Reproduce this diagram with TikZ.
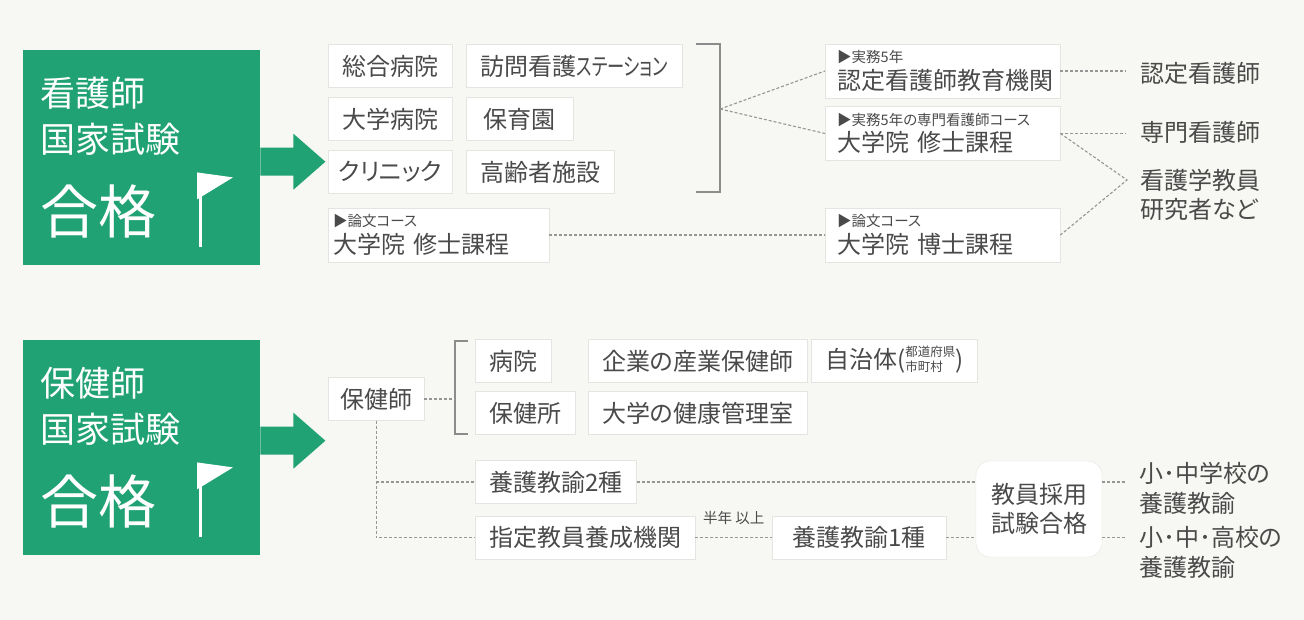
\documentclass[tikz,border=0pt]{standalone}
\usepackage{fontspec}
\usepackage{graphicx}
\setmainfont{Noto Sans CJK JP}[RawFeature=+palt]
\definecolor{paper}{RGB}{247,248,243}
\definecolor{passgreen}{RGB}{32,162,116}
\definecolor{ink}{RGB}{74,74,74}
\definecolor{boxline}{RGB}{228,228,224}
\definecolor{dashgray}{RGB}{150,150,150}
\definecolor{bracegray}{RGB}{140,140,140}
\newcommand\mainfs{\fontsize{24}{28}\selectfont}
\newcommand\subfs{\fontsize{14.5}{16}\selectfont}
\newcommand\passfs{\fontsize{35}{46}\selectfont\lineskiplimit=-100pt\relax}
\newcommand\bigfs{\fontsize{58}{46}\selectfont}
\tikzset{
  place/.style={draw=boxline, fill=white, text=ink, font=\mainfs, inner xsep=14pt, inner ysep=0pt, minimum height=43pt, anchor=west},
  course/.style={place, align=left, text width=211pt, inner xsep=12pt, minimum height=54pt, font=\fontsize{24}{26.6}\selectfont},
  goal/.style={text=ink, font=\fontsize{24}{29.5}\selectfont, inner xsep=14pt, inner ysep=0pt, anchor=west, align=left},
  pass/.style={fill=passgreen, text=white, anchor=north west, minimum width=237pt, minimum height=215pt, inner xsep=17pt, text width=203pt, align=left, font=\passfs},
  route/.style={draw=dashgray, line width=1.1pt, dash pattern=on 3pt off 2pt},
  brace/.style={draw=bracegray, line width=1.5pt},
}
\begin{document}
\begin{tikzpicture}[x=1pt, y=-1pt]
\useasboundingbox (0,0) rectangle (1304,620);
\fill[paper] (0,0) rectangle (1304,620);

% 看護師
\node[pass] (kango) at (23,50) {看護師\\国家試験\\[34.7pt]{\bigfs 合格}};
\fill[passgreen] (kango.east) ++(0,-10) -- ++(33,0) -- ++(0,-14) -- ++(32,28) -- ++(-32,28) -- ++(0,-14) -- ++(-33,0) -- cycle;
\fill[white] (kango.south west) ++(174,-93) -- ++(36,5) -- ++(-36,22) -- cycle;
\draw[white, line width=3pt] (kango.south west) ++(177,-90) -- ++(0,72);

\node[place, minimum width=124pt] (sogo) at (328,66) {総合病院};
\node[place] (homon) at (466,66) {訪問看護\scalebox{0.72}[1]{ステーション}};
\node[place, minimum width=124pt] (daigaku) at (328,119) {大学病院};
\node[place, minimum width=107pt] (hoiku) at (466,119) {保育園};
\node[place, minimum width=124pt, inner xsep=8pt] (clinic) at (328,172) {クリニック};
\node[place] (korei) at (466,172) {高齢者施設};
\node[course, inner xsep=5pt] (shushi) at (328,235) {{\subfs ▶論文コース}\\大学院 修士課程};

\node[course] (nintei) at (825,71) {{\subfs ▶実務5年}\\認定看護師教育機関};
\node[course] (senmon) at (825,133.5) {{\subfs ▶実務5年の専門看護師コース}\\大学院 修士課程};
\node[course] (hakase) at (825,235) {{\subfs ▶論文コース}\\大学院 博士課程};

\node[goal] (nintei-g) at (1126,73) {認定看護師};
\node[goal] (senmon-g) at (1126,132) {専門看護師};
\node[goal] (kyoin-g) at (1126,195) {看護学教員\\研究者など};

\draw[brace] (696,44) -| (720,192) -- (696,192);
\coordinate (rb) at (720,109);
\draw[route] (rb) -- (nintei.west);
\draw[route] (rb) -- (senmon.west);
\draw[route] (shushi.east) -- (hakase.west);
\draw[route] (nintei.east) -- (nintei.east -| nintei-g.west);
\draw[route] (senmon.east) -- (senmon.east -| senmon-g.west);
\coordinate (jn) at (1127,180);
\draw[route] (senmon.east) -- (jn) -- (hakase.east);

% 保健師
\node[pass] (hoken) at (23,340) {保健師\\国家試験\\[34.7pt]{\bigfs 合格}};
\fill[passgreen] (hoken.east) ++(0,-21) -- ++(33,0) -- ++(0,-14) -- ++(32,28) -- ++(-32,28) -- ++(0,-14) -- ++(-33,0) -- cycle;
\fill[white] (hoken.south west) ++(174,-93) -- ++(36,5) -- ++(-36,22) -- cycle;
\draw[white, line width=3pt] (hoken.south west) ++(177,-90) -- ++(0,72);

\node[place, inner xsep=12pt] (hokenshi) at (328,399) {保健師};
\node[place] (byoin) at (475,361) {病院};
\node[place] (kigyo) at (588,361) {企業の産業保健師};
\node[place] (jichi) at (811,361) {自治体(\raisebox{-2.7pt}{\fontsize{12.5}{15}\selectfont\begin{tabular}[b]{@{}l@{}}都道府県\\市町村\end{tabular}})};
\node[place] (hokenjo) at (475,413) {保健所};
\node[place] (kenko) at (588,413) {大学の健康管理室};
\node[place] (yogo2) at (475,482) {養護教諭2種};
\node[place] (shitei) at (475,537.5) {指定教員養成機関};
\node[place, minimum width=174pt] (yogo1) at (772,537.5) {養護教諭1種};
\node[place, anchor=center, rounded corners=14pt, minimum width=126pt, minimum height=96pt, align=center, font=\fontsize{24}{29}\selectfont] (saiyo) at (1039,509) {教員採用\\試験合格};
\node[goal] (sho-g) at (1125,488.5) {小･中学校の\\養護教諭};
\node[goal] (ko-g) at (1125,552.5) {小･中･高校の\\養護教諭};

\draw[brace] (468,341) -| (455,434) -- (468,434);
\coordinate (lb) at (455,399);
\draw[route] (hokenshi.east) -- (lb);
\draw[route] (hokenshi.south) |- (shitei.west);
\draw[route] (hokenshi.south |- yogo2.west) -- (yogo2.west);
\draw[route] (shitei.east) -- node[above=11pt, font=\subfs, text=ink, inner sep=1pt] {半年 以上} (yogo1.west);
\draw[route] (yogo2.east) -- (yogo2.east -| saiyo.west);
\draw[route] (yogo1.east) -- (yogo1.east -| saiyo.west);
\draw[route] (yogo2.east -| saiyo.east) -- (yogo2.east -| sho-g.west);
\draw[route] (yogo1.east -| saiyo.east) -- (yogo1.east -| ko-g.west);
\end{tikzpicture}
\end{document}
